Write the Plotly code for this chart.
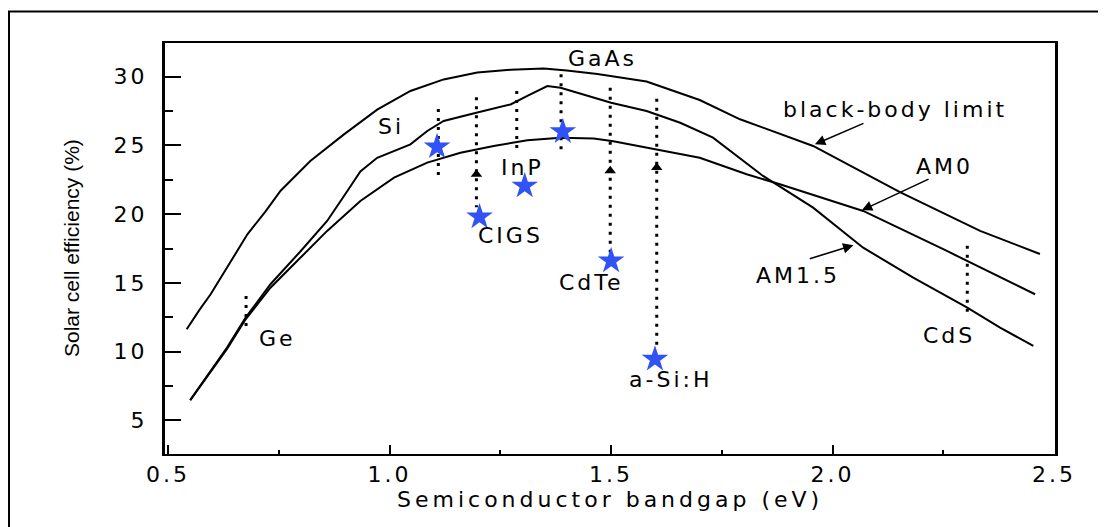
import plotly.graph_objects as go

# ---------------- data ----------------
bb_x = [0.542, 0.57, 0.596, 0.633, 0.679, 0.72, 0.754, 0.821, 0.897, 0.972, 1.047, 1.122,
        1.198, 1.273, 1.348, 1.40, 1.469, 1.58, 1.656, 1.70, 1.791, 1.956, 2.152, 2.333, 2.468]
bb_y = [11.63, 13.0, 14.17, 16.1, 18.53, 20.2, 21.7, 23.87, 25.8, 27.6, 28.96, 29.8,
        30.3, 30.5, 30.6, 30.45, 30.2, 29.65, 28.8, 28.3, 26.9, 24.96, 21.6, 18.78, 17.1]

am15_x = [0.55, 0.596, 0.633, 0.675, 0.731, 0.799, 0.859, 0.905, 0.934, 0.972, 1.047, 1.085,
          1.122, 1.198, 1.273, 1.311, 1.356, 1.386, 1.423, 1.469, 1.50, 1.58, 1.656, 1.73,
          1.843, 1.956, 2.069, 2.182, 2.304, 2.378, 2.453]
am15_y = [6.47, 8.6, 10.3, 12.47, 14.9, 17.3, 19.5, 21.7, 23.1, 24.1, 25.08, 26.05,
          26.78, 27.4, 27.98, 28.6, 29.32, 29.2, 28.84, 28.4, 28.1, 27.5, 26.65, 25.56,
          22.78, 20.47, 17.56, 15.38, 13.2, 11.75, 10.41]

am0_x = [0.55, 0.596, 0.633, 0.675, 0.731, 0.799, 0.859, 0.934, 1.01, 1.085, 1.16, 1.235,
         1.311, 1.386, 1.461, 1.505, 1.603, 1.70, 1.806, 1.881, 2.069, 2.258, 2.457]
am0_y = [6.47, 8.5, 10.2, 12.35, 14.65, 16.84, 18.78, 20.96, 22.65, 23.75, 24.47, 24.96,
         25.37, 25.56, 25.5, 25.3, 24.72, 24.1, 22.9, 22.17, 20.23, 17.32, 14.17]

# materials: bandgap marker (dotted vertical line)
mat_names = ["Ge", "Si", "CIGS", "InP", "GaAs", "CdTe", "a-Si:H", "CdS"]
mat_gap = [0.676, 1.110, 1.196, 1.287, 1.387, 1.498, 1.603, 2.304]
dot_top = [14.05, 27.65, 28.5, 28.96, 30.17, 29.2, 28.4, 17.7]
dot_bottom = [11.5, 22.48, 20.5, 24.6, 24.36, 17.2, 10.1, 12.47]
label_x = [0.748, 1.003, 1.272, 1.30, 1.48, 1.456, 1.633, 2.263]
label_y = [10.96, 26.38, 18.45, 23.4, 31.32, 15.03, 8.0, 11.18]

# record cell efficiencies (stars)
star_names = ["Si", "CIGS", "InP", "GaAs", "CdTe", "a-Si:H"]
star_x = [1.107, 1.203, 1.305, 1.391, 1.500, 1.599]
star_y = [24.9, 19.8, 22.05, 26.0, 16.6, 9.45]

# upward arrow heads on the dotted lines
arrow_x = [1.196, 1.498, 1.603]
arrow_y = [22.9, 23.15, 23.4]

# curve labels and pointer arrows
curve_names = ["black-body limit", "AM0", "AM1.5"]
curve_label_x = [2.141, 2.252, 1.921]
curve_label_y = [27.6, 23.5, 15.5]
ptr_tail_x = [2.073, 2.22, 1.945]
ptr_tail_y = [26.65, 22.6, 16.72]
ptr_head_x = [1.960, 2.066, 2.047]
ptr_head_y = [25.08, 20.28, 17.74]

x_ticks = [0.5, 1.0, 1.5, 2.0, 2.5]
y_ticks = [5, 10, 15, 20, 25, 30]

FONT = "DejaVu Sans"
FS = 22
LS = 3  # letter spacing (px) to mimic the wide lettering of the original


def wide(s, ls=LS):
    return f'<span style="letter-spacing:{ls}px">{s}</span>'


fig = go.Figure()

for cx, cy in [(bb_x, bb_y), (am0_x, am0_y), (am15_x, am15_y)]:
    fig.add_trace(go.Scatter(x=cx, y=cy, mode="lines",
                             line=dict(color="black", width=2), hoverinfo="skip",
                             showlegend=False))

# dotted vertical bandgap lines
dx, dy = [], []
for g, t, b in zip(mat_gap, dot_top, dot_bottom):
    dx += [g, g, None]
    dy += [t, b, None]
fig.add_trace(go.Scatter(x=dx, y=dy, mode="lines",
                         line=dict(color="black", width=3, dash="3px,6px"),
                         hoverinfo="skip", showlegend=False))

# arrow heads
fig.add_trace(go.Scatter(x=arrow_x, y=arrow_y, mode="markers",
                         marker=dict(symbol="triangle-up", size=10, color="black"),
                         hoverinfo="skip", showlegend=False))

# stars
fig.add_trace(go.Scatter(x=star_x, y=star_y, mode="markers", text=star_names,
                         marker=dict(symbol="star", size=20, color="#3152F5",
                                     line=dict(width=0)),
                         showlegend=False))

annotations = []
for n, x, y in zip(mat_names, label_x, label_y):
    annotations.append(dict(x=x, y=y, xref="x", yref="y", text=wide(n), showarrow=False,
                            font=dict(family=FONT, size=FS, color="black"),
                            xanchor="center", yanchor="middle"))
for n, x, y in zip(curve_names, curve_label_x, curve_label_y):
    annotations.append(dict(x=x, y=y, xref="x", yref="y", text=wide(n), showarrow=False,
                            font=dict(family=FONT, size=FS, color="black"),
                            xanchor="center", yanchor="middle"))
for tx, ty, hx, hy in zip(ptr_tail_x, ptr_tail_y, ptr_head_x, ptr_head_y):
    annotations.append(dict(x=hx, y=hy, ax=tx, ay=ty, xref="x", yref="y",
                            axref="x", ayref="y", text="", showarrow=True,
                            arrowhead=2, arrowsize=1.3, arrowwidth=1.6,
                            arrowcolor="black"))

# axis titles
annotations.append(dict(x=0.5, y=-0.11, xref="paper", yref="paper",
                        text=wide("Semiconductor bandgap (eV)", 4), showarrow=False,
                        font=dict(family=FONT, size=FS, color="black"),
                        xanchor="center", yanchor="middle"))
annotations.append(dict(x=-0.105, y=0.5, xref="paper", yref="paper",
                        text="Solar cell efficiency (%)", showarrow=False,
                        textangle=-90,
                        font=dict(family="Liberation Sans", size=21, color="black"),
                        xanchor="center", yanchor="middle"))

fig.update_layout(
    width=1098, height=519,
    margin=dict(l=157, r=51, t=35, b=73),
    paper_bgcolor="white", plot_bgcolor="white",
    annotations=annotations,
    shapes=[dict(type="rect", xref="paper", yref="paper",
                 x0=-0.1753, x1=1.08, y0=-0.2, y1=1.0766,
                 line=dict(color="black", width=2), fillcolor="rgba(0,0,0,0)",
                 layer="below")],
    xaxis=dict(range=[0.493, 2.502], tickvals=x_ticks,
               ticktext=[wide(f"{v:.1f}") for v in x_ticks],
               ticks="inside", ticklen=9, tickwidth=2, tickcolor="black",
               minor=dict(ticks="inside", ticklen=4, tickwidth=2, dtick=0.25,
                          tick0=0.5, tickcolor="black"),
               showline=True, linewidth=2, linecolor="black", mirror=True,
               showgrid=False, zeroline=False,
               tickfont=dict(family=FONT, size=FS, color="black"),
               ticklabelstandoff=0),
    yaxis=dict(range=[2.55, 32.45], tickvals=y_ticks,
               ticktext=[wide(str(v)) for v in y_ticks],
               ticks="inside", ticklen=16, tickwidth=2, tickcolor="black",
               minor=dict(ticks="inside", ticklen=8, tickwidth=2, dtick=2.5,
                          tick0=0, tickcolor="black"),
               showline=True, linewidth=3, linecolor="black", mirror=True,
               showgrid=False, zeroline=False,
               tickfont=dict(family=FONT, size=FS, color="black"),
               ticklabelstandoff=10),
)

fig.write_html("out.html")
